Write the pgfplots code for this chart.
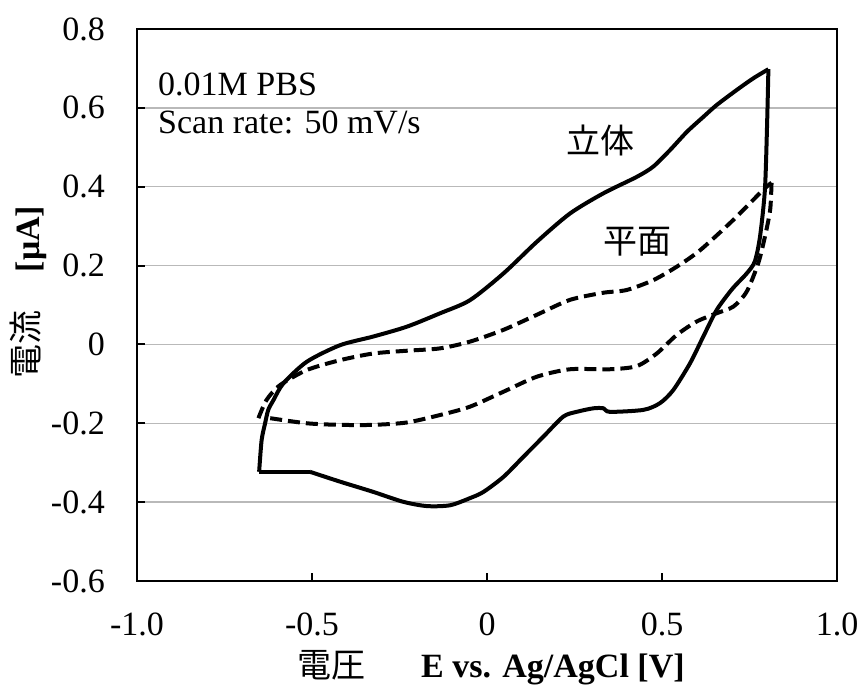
\documentclass[border=0pt]{standalone}
\usepackage{fontspec}
\setmainfont{Liberation Serif}
\newfontfamily\cjk{Noto Sans CJK JP}
\usepackage{pgfplots}
\pgfplotsset{compat=1.18}
\newcommand\bigf{\fontsize{34bp}{40bp}\selectfont}
\begin{document}
\begin{tikzpicture}
\useasboundingbox (-137bp,-105bp) rectangle (727bp,581bp);
\begin{axis}[
  scale only axis, width=700bp, height=552bp,
  xmin=-1, xmax=1, ymin=-0.6, ymax=0.8,
  xtick={-1,-0.5,0,0.5,1}, xticklabels={-1.0,-0.5,0,0.5,1.0},
  ytick={-0.6,-0.4,-0.2,0,0.2,0.4,0.6,0.8},
  yticklabels={-0.6,-0.4,-0.2,0,0.2,0.4,0.6,0.8},
  xtick pos=bottom, ytick pos=left, tick align=inside,
  major tick length=8bp,
  tick style={black, line width=2bp},
  ymajorgrids, grid style={gray!55, line width=1.5bp},
  axis line style={black, line width=2.5bp},
  ticklabel style={font=\bigf, inner sep=0pt},
  yticklabel style={xshift=-32bp},
  xticklabel style={yshift=-32bp},
  clip=false,
]
% solid (立体): anodic branch
\addplot[black, line width=4bp, line join=round, smooth, tension=0.45] coordinates {
(-0.651,-0.323) (-0.644,-0.243) (-0.634,-0.2) (-0.625,-0.166) (-0.61,-0.141)
(-0.582,-0.099) (-0.515,-0.044) (-0.42,-0.002) (-0.325,0.02) (-0.229,0.045)
(-0.134,0.079) (-0.049,0.112) (0.047,0.18) (0.142,0.26) (0.237,0.332)
(0.332,0.383) (0.428,0.425) (0.475,0.451) (0.523,0.493) (0.571,0.539)
(0.618,0.577) (0.656,0.607) (0.713,0.645) (0.761,0.675) (0.804,0.698)
};
% solid (立体): cathodic branch
\addplot[black, line width=4bp, line join=round, smooth, tension=0.45] coordinates {
(0.804,0.698) (0.800,0.55) (0.794,0.392) (0.78,0.273) (0.765,0.21) (0.742,0.18)
(0.70,0.14) (0.656,0.087) (0.618,0.02) (0.58,-0.048) (0.532,-0.116)
(0.494,-0.149) (0.447,-0.166) (0.351,-0.171) (0.333,-0.162) (0.304,-0.162)
(0.256,-0.171) (0.218,-0.183) (0.161,-0.234) (0.104,-0.285) (0.047,-0.336)
(-0.01,-0.374) (-0.049,-0.39) (-0.106,-0.408) (-0.172,-0.41) (-0.24,-0.399)
(-0.325,-0.374) (-0.42,-0.348) (-0.506,-0.323)
};
\addplot[black, line width=4bp, line join=round] coordinates {
(-0.506,-0.323) (-0.651,-0.323)
};
% dashed (平面): anodic branch
\addplot[black, line width=4bp, dash pattern=on 12bp off 6bp, line join=round, smooth, tension=0.45] coordinates {
(-0.653,-0.187) (-0.63,-0.141) (-0.591,-0.103) (-0.515,-0.065) (-0.42,-0.04)
(-0.325,-0.023) (-0.229,-0.016) (-0.134,-0.01) (-0.049,0.007) (0.047,0.037)
(0.142,0.075) (0.237,0.113) (0.332,0.131) (0.399,0.138) (0.475,0.163)
(0.542,0.197) (0.609,0.239) (0.704,0.316) (0.789,0.392) (0.813,0.41)
};
% dashed (平面): cathodic branch
\addplot[black, line width=4bp, dash pattern=on 12bp off 6bp, line join=round, smooth, tension=0.45] coordinates {
(0.813,0.41) (0.809,0.341) (0.794,0.273) (0.775,0.206) (0.742,0.134) (0.704,0.096)
(0.656,0.079) (0.599,0.058) (0.542,0.024) (0.485,-0.023) (0.428,-0.055)
(0.351,-0.063) (0.237,-0.063) (0.142,-0.082) (0.047,-0.12) (-0.049,-0.158)
(-0.134,-0.179) (-0.229,-0.198) (-0.325,-0.204) (-0.42,-0.204) (-0.515,-0.2)
(-0.62,-0.187)
};
\node[anchor=base west, font=\bigf, inner sep=0pt] at (axis cs:-0.94,0.632) {0.01M PBS};
\node[anchor=base west, font=\bigf, inner sep=0pt] at (axis cs:-0.94,0.536) {Scan rate: 50 mV/s};
\node[font=\cjk\bigf, inner sep=0pt] at (axis cs:0.323,0.516) {立体};
\node[font=\cjk\bigf, inner sep=0pt] at (axis cs:0.429,0.26) {平面};
\end{axis}
\node[anchor=base east, font=\cjk\bigf, inner sep=0pt] at (229bp,-96bp) {電圧};
\node[anchor=base west, font=\bigf\bfseries, inner sep=0pt] at (284bp,-96bp) {E vs. Ag/AgCl [V]};
\node[rotate=90, font=\cjk\bigf, inner sep=0pt] at (-111bp,236bp) {電流};
\node[rotate=90, font=\bigf\bfseries, inner sep=0pt] at (-106bp,342bp) {[μA]};
\end{tikzpicture}
\end{document}
